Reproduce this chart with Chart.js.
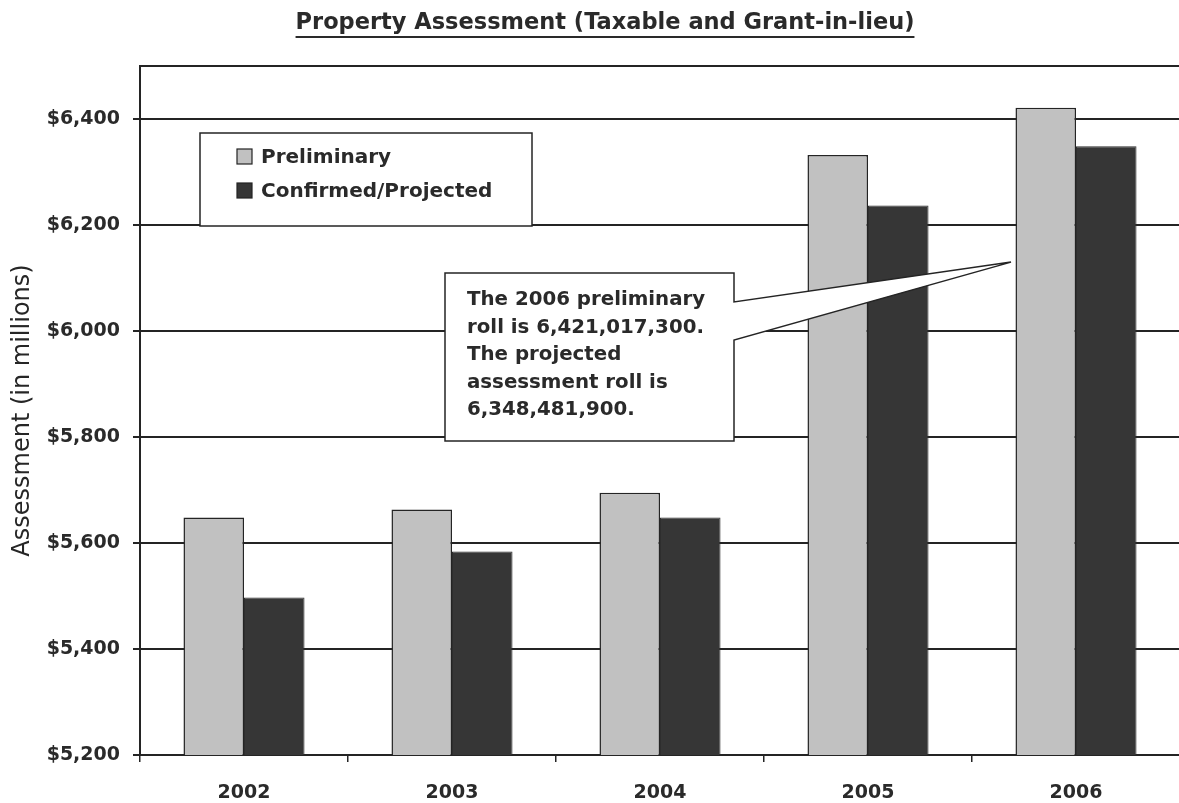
<!DOCTYPE html>
<html>
<head>
<meta charset="utf-8">
<script src="https://cdn.jsdelivr.net/npm/chart.js@4/dist/chart.umd.min.js"></script>
<style>
  html, body { margin: 0; padding: 0; background: #ffffff; overflow: hidden; }
  #wrap { width: 1182px; height: 803px; }
</style>
</head>
<body>
<div id="wrap"><canvas id="chart" width="1182" height="803"></canvas></div>
<script>
// Assessment roll, in millions of dollars
const years = ['2002', '2003', '2004', '2005', '2006'];
const preliminary = [5648, 5663, 5695, 6332, 6421.0173];
const confirmedProjected = [5497, 5584, 5648, 6237, 6348.4819];
const seriesNames = ['Preliminary', 'Confirmed/Projected'];
const yTicks = [5200, 5400, 5600, 5800, 6000, 6200, 6400];

const INK = '#242424';
const TEXT = '#2a2a2a';
const LIGHT = '#c1c1c1';
const DARK = '#363636';
const FONT = '"DejaVu Sans", Arial, sans-serif';

const fmtRoll = v => Math.round(v * 1e6).toLocaleString('en-US');
const calloutLines = [
  'The 2006 preliminary',
  'roll is ' + fmtRoll(preliminary[4]) + '.',
  'The projected',
  'assessment roll is',
  fmtRoll(confirmedProjected[4]) + '.'
];

// Underlined heading, frame top edge, in-plot legend and the callout
const decorations = {
  id: 'decorations',
  afterDraw(chart) {
    const ctx = chart.ctx;
    const area = chart.chartArea;
    const x = chart.scales.x, y = chart.scales.y;
    ctx.save();

    // heading
    const title = 'Property Assessment (Taxable and Grant-in-lieu)';
    ctx.font = 'bold 22.5px ' + FONT;
    ctx.fillStyle = TEXT;
    ctx.textAlign = 'center';
    ctx.textBaseline = 'middle';
    const tw = ctx.measureText(title).width;
    const tcx = 605;
    ctx.fillText(title, tcx, 23);
    ctx.strokeStyle = TEXT;
    ctx.lineWidth = 2;
    ctx.beginPath();
    ctx.moveTo(tcx - tw / 2, 37);
    ctx.lineTo(tcx + tw / 2, 37);
    ctx.stroke();

    // top and right edges of the plot frame
    ctx.strokeStyle = INK;
    ctx.lineWidth = 2;
    ctx.beginPath();
    ctx.moveTo(area.left, area.top);
    ctx.lineTo(area.right, area.top);
    ctx.lineTo(area.right, area.bottom);
    ctx.stroke();

    // legend box
    const lx = 200, ly = 133, lw = 332, lh = 93;
    ctx.fillStyle = '#ffffff';
    ctx.fillRect(lx, ly, lw, lh);
    ctx.lineWidth = 1.5;
    ctx.strokeRect(lx, ly, lw, lh);
    ctx.font = 'bold 20px ' + FONT;
    ctx.textAlign = 'left';
    const ds = chart.data.datasets;
    [157, 191].forEach((cy, i) => {
      ctx.fillStyle = ds[i].backgroundColor;
      ctx.fillRect(237, cy - 8, 15, 15);
      ctx.strokeStyle = INK;
      ctx.lineWidth = 1.2;
      ctx.strokeRect(237, cy - 8, 15, 15);
      ctx.fillStyle = TEXT;
      ctx.fillText(ds[i].label, 261, cy + 1);
    });

    // callout pointing at the 2006 bars
    const bx = 445, by = 273, bw = 289, bh = 168;
    const tipX = x.getPixelForValue(4) - 65;
    const tipY = y.getPixelForValue(6130);
    ctx.beginPath();
    ctx.moveTo(bx, by);
    ctx.lineTo(bx + bw, by);
    ctx.lineTo(bx + bw, by + 29);
    ctx.lineTo(tipX, tipY);
    ctx.lineTo(bx + bw, by + 67);
    ctx.lineTo(bx + bw, by + bh);
    ctx.lineTo(bx, by + bh);
    ctx.closePath();
    ctx.fillStyle = '#ffffff';
    ctx.fill();
    ctx.strokeStyle = INK;
    ctx.lineWidth = 1.5;
    ctx.stroke();

    ctx.fillStyle = TEXT;
    ctx.font = 'bold 19.8px ' + FONT;
    ctx.textAlign = 'left';
    calloutLines.forEach((t, i) => ctx.fillText(t, 467, 300 + i * 27.5));

    ctx.restore();
  }
};

new Chart(document.getElementById('chart'), {
  type: 'bar',
  data: {
    labels: years,
    datasets: [
      {
        label: seriesNames[0],
        data: preliminary,
        backgroundColor: LIGHT,
        borderColor: INK,
        borderWidth: 1.5
      },
      {
        label: seriesNames[1],
        data: confirmedProjected,
        backgroundColor: DARK,
        borderColor: '#2e2e2e',
        borderWidth: 1
      }
    ]
  },
  options: {
    responsive: false,
    animation: false,
    events: [],
    layout: { padding: { top: 66, right: 2, left: 0, bottom: 0 } },
    datasets: { bar: { categoryPercentage: 0.582, barPercentage: 1.0 } },
    plugins: {
      legend: { display: false },
      title: { display: false },
      tooltip: { enabled: false }
    },
    scales: {
      x: {
        offset: true,
        grid: {
          offset: true,
          drawOnChartArea: false,
          drawTicks: true,
          tickLength: 7,
          color: INK,
          lineWidth: 1.5
        },
        border: { display: true, color: INK, width: 2 },
        ticks: {
          color: TEXT,
          font: { family: FONT, size: 19, weight: 'bold' },
          padding: 20
        },
        afterFit(scale) { scale.height = 48; }
      },
      y: {
        min: 5200,
        max: 6500,
        afterBuildTicks(scale) { scale.ticks = yTicks.map(v => ({ value: v })); },
        grid: {
          color: INK,
          lineWidth: 2,
          tickLength: 7
        },
        border: { display: true, color: INK, width: 2 },
        ticks: {
          color: TEXT,
          font: { family: FONT, size: 19, weight: 'bold' },
          padding: 13,
          callback: v => '$' + Number(v).toLocaleString('en-US')
        },
        title: {
          display: true,
          text: 'Assessment (in millions)',
          color: '#262626',
          font: { family: FONT, size: 24 },
          padding: { top: 8, bottom: 0 }
        },
        afterFit(scale) { scale.width = 140; }
      }
    }
  },
  plugins: [decorations]
});
</script>
</body>
</html>
